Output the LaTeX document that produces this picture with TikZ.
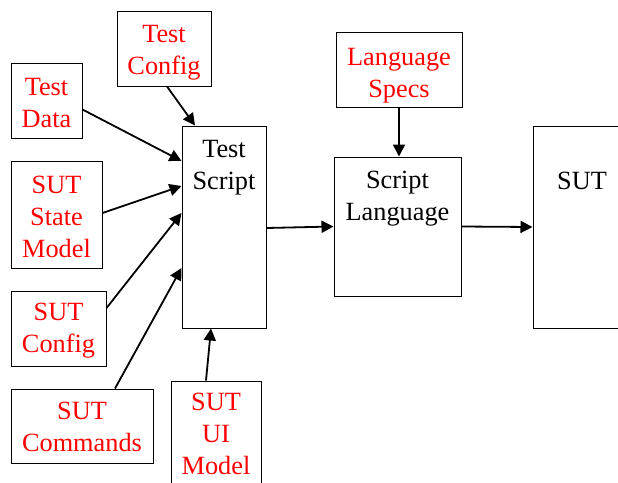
\documentclass[tikz,border=0pt]{standalone}
\usepackage{fontspec}
\setmainfont{Liberation Serif}
\usetikzlibrary{arrows.meta,calc}
\definecolor{labelred}{RGB}{255,0,0}
\tikzset{
  box/.style={draw=black, line width=1pt, fill=white, inner sep=0pt},
  caption/.style={inner sep=0pt, align=center, anchor=base},
  redcaption/.style={caption, text=labelred},
  flow/.style={line width=1.8pt, -{Triangle[length=12pt,width=12pt]}}
}
\begin{document}
\begin{tikzpicture}[x=1pt,y=-1pt,font=\fontsize{26.3}{32}\selectfont]
\useasboundingbox (0,0) rectangle (618,482);
\clip (0,0) rectangle (618,482);

% input boxes
\node[box, minimum width=94pt,  minimum height=75pt]  (tconf)  at (164,48.5)   {};
\node[box, minimum width=71pt,  minimum height=75pt]  (tdata)  at (46.5,100.5) {};
\node[box, minimum width=91pt,  minimum height=107pt] (sstate) at (56.5,214.5) {};
\node[box, minimum width=95pt,  minimum height=75pt]  (sconf)  at (58.5,328.5) {};
\node[box, minimum width=142pt, minimum height=74pt]  (scmd)   at (82,426)     {};
\node[box, minimum width=90pt,  minimum height=119pt] (sui)    at (216,440.5)  {};
\node[box, minimum width=126pt, minimum height=75pt]  (lspec)  at (399,69.5)   {};

% main chain
\node[box, minimum width=84pt,  minimum height=202pt] (tscript) at (224,227)     {};
\node[box, minimum width=127pt, minimum height=139pt] (slang)   at (397.5,226.5) {};
\node[box, minimum width=107pt, minimum height=202pt] (sut)     at (586.5,227)   {};

% captions (anchored at the baseline of their last line)
\node[redcaption] (tconflbl)  at (164,74)    {Test\\Config};
\node[redcaption] (tdatalbl)  at (46.5,127)  {Test\\Data};
\node[redcaption] (sstatelbl) at (56.5,257)  {SUT\\State\\Model};
\node[redcaption] (sconflbl)  at (58.5,352)  {SUT\\Config};
\node[redcaption] (scmdlbl)   at (82,451)    {SUT\\Commands};
\node[redcaption] (suilbl)    at (216,474)   {SUT\\UI\\Model};
\node[redcaption] (lspeclbl)  at (399,97)    {Language\\Specs};
\node[caption] (tscriptlbl) at (224,189)   {Test\\Script};
\node[caption] (slanglbl)   at (397.5,220) {Script\\Language};
\node[caption] (sutlbl)     at (582,189)   {SUT};

% connectors
\draw[flow] ($(tconf.south)+(3,0)$)    -- ($(tscript.north)+(-29,0)$);
\draw[flow] ($(tdata.east)+(0,9)$)     -- ($(tscript.west)+(0,-66)$);
\draw[flow] ($(sstate.east)+(0,-1.5)$) -- ($(tscript.west)+(0,-41)$);
\draw[flow] ($(sconf.east)+(0,-20.5)$) -- ($(tscript.west)+(0,-14)$);
\draw[flow] ($(scmd.north)+(33,0)$)    -- ($(tscript.west)+(0,41)$);
\draw[flow] ($(sui.north)+(-10,0)$)    -- ($(tscript.south)+(-13,0)$);
\draw[flow] ($(tscript.east)+(0,1)$)   -- (slang.west);
\draw[flow] (lspec.south)              -- ($(slang.north)+(1.5,0)$);
\draw[flow] (slang.east)               -- (sut.west);
\end{tikzpicture}
\end{document}
